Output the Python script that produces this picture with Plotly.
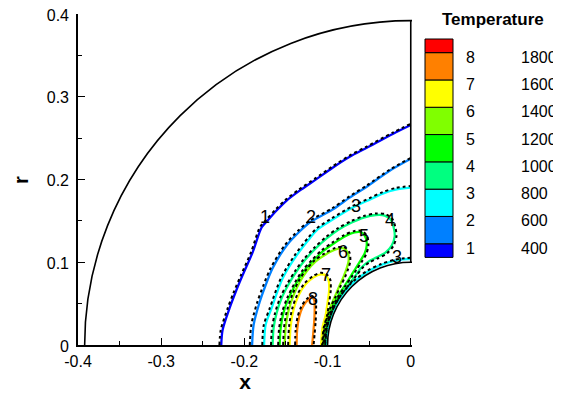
import plotly.graph_objects as go

# ---------------- data ----------------
LEVEL_IDS = [1, 2, 3, 4, 5, 6, 7, 8]
LEVEL_VALUES = [400, 600, 800, 1000, 1200, 1400, 1600, 1800]
LEVEL_COLORS = ["#0000FF", "#0080FF", "#00FFFF", "#00FF80",
                "#00FF00", "#80FF00", "#FFFF00", "#FF8000"]
TOP_COLOR = "#FF0000"
LEGEND_TITLE = "Temperature"

X_TICKS = [-0.4, -0.3, -0.2, -0.1, 0.0]
X_TICK_TEXT = ["-0.4", "-0.3", "-0.2", "-0.1", "0"]
Y_TICKS = [0.0, 0.1, 0.2, 0.3, 0.4]
Y_TICK_TEXT = ["0", "0.1", "0.2", "0.3", "0.4"]

BODY_RADIUS = 0.1
OUTER_RADIUS = 0.392

# contour lines (solid = computed, dashed = reference)
C1_X = [-0.2278, -0.2262, -0.2178, -0.2106, -0.2022, -0.1901, -0.1793, -0.1721, -0.1613,
        -0.1492, -0.1336, -0.1143, -0.0939, -0.0734, -0.0529, -0.0217, 0.0]
C1_Y = [0.0, 0.0181, 0.0446, 0.0638, 0.0842, 0.1119, 0.1420, 0.1504, 0.1625,
        0.1745, 0.1865, 0.1998, 0.2142, 0.2274, 0.2383, 0.2551, 0.2659]
C1R_X = [-0.2300, -0.2284, -0.2200, -0.2128, -0.2042, -0.1921, -0.1811, -0.1735, -0.1625,
         -0.1502, -0.1343, -0.1148, -0.0942, -0.0736, -0.0530, -0.0217, 0.0]
C1R_Y = [0.0, 0.0181, 0.0446, 0.0638, 0.0842, 0.1119, 0.1428, 0.1516, 0.1637,
         0.1757, 0.1880, 0.2013, 0.2157, 0.2289, 0.2398, 0.2566, 0.2674]

C2_X = [-0.1907, -0.1889, -0.1817, -0.1745, -0.1661, -0.1492, -0.1336, -0.1215, -0.0939,
        -0.0734, -0.0529, -0.0253, 0.0]
C2_Y = [0.0, 0.0241, 0.0517, 0.0722, 0.0927, 0.1203, 0.1372, 0.1480, 0.1637,
        0.1781, 0.1913, 0.2106, 0.2250]
C2R_X = [-0.1935, -0.1917, -0.1845, -0.1771, -0.1685, -0.1512, -0.1352, -0.1226, -0.0945,
         -0.0737, -0.0530, -0.0253, 0.0]
C2R_Y = [0.0, 0.0241, 0.0517, 0.0722, 0.0927, 0.1210, 0.1383, 0.1494, 0.1652,
         0.1796, 0.1927, 0.2119, 0.2262]

C3_X = [-0.1763, -0.1745, -0.1673, -0.1540, -0.1372, -0.1215, -0.1119, -0.0939, -0.0698,
        -0.0493, -0.0337, -0.0181, 0.0]
C3_Y = [0.0, 0.0241, 0.0445, 0.0806, 0.1083, 0.1288, 0.1396, 0.1516, 0.1661,
        0.1757, 0.1829, 0.1877, 0.1901]
C3R_X = [-0.1785, -0.1767, -0.1695, -0.1560, -0.1390, -0.1230, -0.1131, -0.0947, -0.0702,
         -0.0495, -0.0338, -0.0181, 0.0]
C3R_Y = [0.0, 0.0241, 0.0445, 0.0810, 0.1092, 0.1300, 0.1410, 0.1532, 0.1678,
         0.1775, 0.1848, 0.1897, 0.1921]

C3B_X = [0.0, -0.0100, -0.0200, -0.0352, -0.0514, -0.0724, -0.0884, -0.0984, -0.1017]
C3B_Y = [0.1042, 0.1034, 0.1017, 0.0968, 0.0889, 0.0724, 0.0511, 0.0264, 0.0]
C3BR_X = [0.0, -0.0101, -0.0202, -0.0356, -0.0520, -0.0732, -0.0894, -0.0995, -0.1029]
C3BR_Y = [0.1054, 0.1046, 0.1029, 0.0979, 0.0899, 0.0732, 0.0517, 0.0267, 0.0]

C4_X = [-0.1661, -0.1649, -0.1613, -0.1552, -0.1468, -0.1372, -0.1264, -0.1143, -0.1011,
        -0.0866, -0.0710, -0.0566, -0.0421, -0.0313, -0.0241, -0.0205, -0.0193, -0.0229,
        -0.0301, -0.0409, -0.0505, -0.0590, -0.0662, -0.0739, -0.0848, -0.0935, -0.1007, -0.1030]
C4_Y = [0.0, 0.0205, 0.0385, 0.0566, 0.0734, 0.0891, 0.1035, 0.1167, 0.1288,
        0.1396, 0.1480, 0.1540, 0.1571, 0.1564, 0.1516, 0.1420, 0.1312, 0.1203,
        0.1119, 0.1059, 0.1011, 0.0939, 0.0842, 0.0739, 0.0594, 0.0436, 0.0214, 0.0]
C4R_X = [-0.1680, -0.1668, -0.1632, -0.1571, -0.1486, -0.1388, -0.1279, -0.1156, -0.1022,
         -0.0873, -0.0714, -0.0568, -0.0421, -0.0305, -0.0225, -0.0185, -0.0172, -0.0209,
         -0.0285, -0.0398, -0.0497, -0.0584, -0.0657, -0.0736, -0.0846, -0.0934, -0.1007, -0.1030]
C4R_Y = [0.0, 0.0205, 0.0385, 0.0568, 0.0737, 0.0897, 0.1045, 0.1180, 0.1303,
         0.1413, 0.1498, 0.1558, 0.1589, 0.1582, 0.1530, 0.1425, 0.1312, 0.1198,
         0.1108, 0.1046, 0.0998, 0.0928, 0.0834, 0.0734, 0.0591, 0.0434, 0.0213, 0.0]

C5_X = [-0.1576, -0.1564, -0.1528, -0.1468, -0.1384, -0.1288, -0.1179, -0.1059, -0.0927,
        -0.0794, -0.0674, -0.0590, -0.0542, -0.0529, -0.0554, -0.0602, -0.0662, -0.0722,
        -0.0795, -0.0885, -0.0972, -0.1029, -0.1045]
C5_Y = [0.0, 0.0205, 0.0397, 0.0566, 0.0734, 0.0891, 0.1011, 0.1131, 0.1227,
        0.1312, 0.1360, 0.1360, 0.1300, 0.1203, 0.1107, 0.1023, 0.0927, 0.0830,
        0.0716, 0.0575, 0.0393, 0.0181, 0.0]
C5R_X = [-0.1594, -0.1582, -0.1546, -0.1485, -0.1400, -0.1302, -0.1192, -0.1070, -0.0935,
         -0.0799, -0.0676, -0.0586, -0.0523, -0.0509, -0.0536, -0.0587, -0.0650, -0.0713,
         -0.0789, -0.0881, -0.0970, -0.1028, -0.1045]
C5R_Y = [0.0, 0.0205, 0.0398, 0.0569, 0.0740, 0.0900, 0.1023, 0.1145, 0.1243,
         0.1329, 0.1378, 0.1378, 0.1312, 0.1203, 0.1096, 0.1010, 0.0914, 0.0820,
         0.0710, 0.0571, 0.0391, 0.0180, 0.0]

C6_X = [-0.1516, -0.1504, -0.1468, -0.1408, -0.1336, -0.1251, -0.1143, -0.1023, -0.0903,
        -0.0806, -0.0758, -0.0746, -0.0770, -0.0806, -0.0854, -0.0910, -0.0976, -0.1037, -0.1058]
C6_Y = [0.0, 0.0217, 0.0421, 0.0602, 0.0758, 0.0891, 0.1011, 0.1095, 0.1155,
        0.1167, 0.1119, 0.1023, 0.0927, 0.0830, 0.0722, 0.0591, 0.0434, 0.0220, 0.0]
C6R_X = [-0.1534, -0.1522, -0.1486, -0.1425, -0.1352, -0.1265, -0.1155, -0.1032, -0.0908,
         -0.0805, -0.0740, -0.0726, -0.0752, -0.0791, -0.0843, -0.0903, -0.0973, -0.1036, -0.1058]
C6R_Y = [0.0, 0.0217, 0.0422, 0.0605, 0.0764, 0.0900, 0.1023, 0.1110, 0.1172,
         0.1185, 0.1125, 0.1020, 0.0920, 0.0820, 0.0713, 0.0585, 0.0431, 0.0219, 0.0]

C7_X = [-0.1456, -0.1444, -0.1408, -0.1348, -0.1264, -0.1167, -0.1083, -0.1023, -0.0987,
        -0.0981, -0.0999, -0.1023, -0.1062, -0.1078]
C7_Y = [0.0, 0.0229, 0.0433, 0.0602, 0.0734, 0.0818, 0.0854, 0.0842, 0.0782,
        0.0662, 0.0517, 0.0361, 0.0205, 0.0]
C7R_X = [-0.1474, -0.1462, -0.1426, -0.1364, -0.1277, -0.1174, -0.1085, -0.1015, -0.0968,
         -0.0962, -0.0981, -0.1006, -0.1047, -0.1066]
C7R_Y = [0.0, 0.0229, 0.0435, 0.0608, 0.0745, 0.0834, 0.0872, 0.0858, 0.0790,
         0.0662, 0.0514, 0.0358, 0.0203, 0.0]

C8_X = [-0.1372, -0.1366, -0.1342, -0.1300, -0.1240, -0.1191, -0.1161, -0.1155, -0.1161,
        -0.1173, -0.1185]
C8_Y = [0.0, 0.0181, 0.0337, 0.0457, 0.0542, 0.0578, 0.0542, 0.0421, 0.0277, 0.0132, 0.0]
C8R_X = [-0.1390, -0.1384, -0.1360, -0.1315, -0.1250, -0.1193, -0.1145, -0.1138, -0.1144,
         -0.1156, -0.1168]
C8R_Y = [0.0, 0.0181, 0.0340, 0.0466, 0.0556, 0.0596, 0.0550, 0.0421, 0.0277, 0.0132, 0.0]

# contour labels
LABEL_TEXT = ["1", "2", "3", "4", "5", "6", "7", "8", "3"]
LABEL_X = [-0.1757, -0.1195, -0.0653, -0.0253, -0.0566, -0.0818, -0.1017, -0.1173, -0.0168]
LABEL_Y = [0.1546, 0.1552, 0.1685, 0.1516, 0.1318, 0.1125, 0.0848, 0.0554, 0.1059]

# ---------------- figure ----------------
FONT = "Liberation Sans, Arial, Helvetica, sans-serif"
PAGE_OFFSET = 8          # default body margin of the html page
W, H = 561 - PAGE_OFFSET, 393 - PAGE_OFFSET
ML, MT = 78 - PAGE_OFFSET, 14 - PAGE_OFFSET
PW, PH = 334, 331
MR, MB = W - ML - PW, H - MT - PH

fig = go.Figure()

solid_lines = [(C1_X, C1_Y, 0), (C2_X, C2_Y, 1), (C3_X, C3_Y, 2), (C3B_X, C3B_Y, 2),
               (C4_X, C4_Y, 3), (C5_X, C5_Y, 4), (C6_X, C6_Y, 5), (C7_X, C7_Y, 6),
               (C8_X, C8_Y, 7)]
ref_lines = [(C1R_X, C1R_Y), (C2R_X, C2R_Y), (C3R_X, C3R_Y), (C3BR_X, C3BR_Y),
             (C4R_X, C4R_Y), (C5R_X, C5R_Y), (C6R_X, C6R_Y), (C7R_X, C7R_Y),
             (C8R_X, C8R_Y)]

for xs, ys, k in solid_lines:
    fig.add_trace(go.Scatter(x=xs, y=ys, mode="lines",
                             line=dict(color=LEVEL_COLORS[k], width=2.3,
                                       shape="spline", smoothing=0.8),
                             hoverinfo="skip", showlegend=False))
for xs, ys in ref_lines:
    fig.add_trace(go.Scatter(x=xs, y=ys, mode="lines",
                             line=dict(color="black", width=2, dash="3px,3px",
                                       shape="spline", smoothing=0.8),
                             hoverinfo="skip", showlegend=False))

shapes = [
    dict(type="circle", xref="x", yref="y", x0=-OUTER_RADIUS, y0=-OUTER_RADIUS,
         x1=OUTER_RADIUS, y1=OUTER_RADIUS, line=dict(color="black", width=1.6)),
    dict(type="circle", xref="x", yref="y", x0=-BODY_RADIUS, y0=-BODY_RADIUS,
         x1=BODY_RADIUS, y1=BODY_RADIUS, line=dict(color="black", width=1.6)),
    dict(type="line", xref="x", yref="y", x0=0, x1=0, y0=BODY_RADIUS, y1=OUTER_RADIUS,
         line=dict(color="black", width=1.6)),
]

annotations = []
for t, lx, ly in zip(LABEL_TEXT, LABEL_X, LABEL_Y):
    annotations.append(dict(x=lx, y=ly, xref="x", yref="y", text=t, showarrow=False,
                            font=dict(family=FONT, size=18, color="black"),
                            xanchor="center", yanchor="middle"))


# legend (contour level table); positions given in screen pixels
def px_x(p):
    return (p - PAGE_OFFSET - ML) / PW


def px_y(p):
    return (H - MB - (p - PAGE_OFFSET)) / PH


band_colors = LEVEL_COLORS + [TOP_COLOR]
n_full = len(band_colors) - 2
top_px, bot_px = 39.0, 257.4
band_h = (bot_px - top_px) / (n_full + 1)
bounds = [bot_px, bot_px - band_h / 2]
for i in range(n_full):
    bounds.append(bounds[-1] - band_h)
bounds.append(top_px)
box_x0, box_x1 = 425, 453
for i, c in enumerate(band_colors):
    shapes.append(dict(type="rect", xref="paper", yref="paper",
                       x0=px_x(box_x0), x1=px_x(box_x1),
                       y0=px_y(bounds[i]), y1=px_y(bounds[i + 1]),
                       fillcolor=c, line=dict(color="black", width=1)))
for i, (lid, val) in enumerate(zip(LEVEL_IDS, LEVEL_VALUES)):
    yb = bounds[i + 1] + 4.5
    annotations.append(dict(x=px_x(471), y=px_y(yb), xref="paper", yref="paper",
                            text=str(lid), showarrow=False, xanchor="center",
                            yanchor="middle", font=dict(family=FONT, size=16, color="black")))
    annotations.append(dict(x=px_x(519), y=px_y(yb), xref="paper", yref="paper",
                            text=str(val), showarrow=False, xanchor="left",
                            yanchor="middle", font=dict(family=FONT, size=16, color="black")))
annotations.append(dict(x=px_x(493), y=px_y(20), xref="paper", yref="paper",
                        text="<b>" + LEGEND_TITLE + "</b>", showarrow=False,
                        xanchor="center", yanchor="middle",
                        font=dict(family=FONT, size=17, color="black")))
# y-axis title
annotations.append(dict(x=px_x(21), y=px_y(180), xref="paper", yref="paper",
                        text="<b>r</b>", showarrow=False, textangle=-90,
                        xanchor="center", yanchor="middle",
                        font=dict(family=FONT, size=20, color="black")))

axis_common = dict(showline=True, linecolor="black", linewidth=1.6, mirror=False,
                   ticks="inside", ticklen=7, tickwidth=1, tickcolor="black",
                   showgrid=False, zeroline=False, automargin=False,
                   ticklabeloverflow="allow",
                   tickfont=dict(family=FONT, size=16, color="black"))

fig.update_layout(
    width=W, height=H, autosize=False,
    margin=dict(l=ML, r=MR, t=MT, b=MB, autoexpand=False),
    plot_bgcolor="white", paper_bgcolor="white",
    shapes=shapes, annotations=annotations,
    xaxis=dict(range=[-0.4, 0.0015], tickvals=X_TICKS, ticktext=X_TICK_TEXT,
               minor=dict(tickvals=[-0.35, -0.25, -0.15, -0.05], ticks="inside",
                          ticklen=4, tickcolor="black", tickwidth=1, showgrid=False),
               title=dict(text="<b>x</b>", font=dict(family=FONT, size=21, color="black"),
                          standoff=4),
               ticklabelstandoff=1,
               **axis_common),
    yaxis=dict(range=[0, 0.4], tickvals=Y_TICKS, ticktext=Y_TICK_TEXT,
               minor=dict(tickvals=[0.05, 0.15, 0.25, 0.35], ticks="inside",
                          ticklen=4, tickcolor="black", tickwidth=1, showgrid=False),
               ticklabelstandoff=4, ticklabelshift=1,
               **axis_common),
)

fig.write_html("out.html")
